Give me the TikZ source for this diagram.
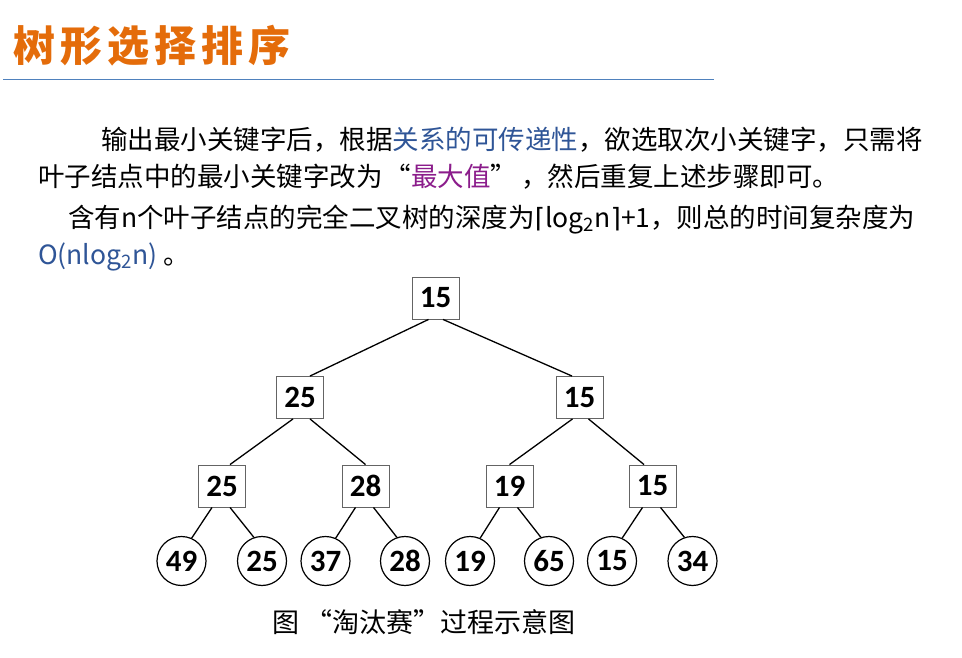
\documentclass[tikz,border=0pt]{standalone}
\usepackage{fontspec}
\setmainfont{Noto Sans CJK SC}
\newfontfamily\numfont{Carlito}
\newfontfamily\symfont{DejaVu Sans}
\newfontfamily\titlefont[LetterSpace=12]{Noto Sans CJK SC}
\usetikzlibrary{calc}
\definecolor{titleorange}{RGB}{228,108,10}
\definecolor{ruleblue}{RGB}{79,129,189}
\definecolor{keyblue}{RGB}{47,85,151}
\definecolor{maxpurple}{RGB}{139,28,139}
\definecolor{boxgray}{RGB}{100,100,100}

\begin{document}
\begin{tikzpicture}[x=1pt, y=-1pt,
		keybox/.style={draw=boxgray, line width=0.9pt, minimum width=47pt, minimum height=42pt, inner sep=0pt, font=\numfont\bfseries\fontsize{31}{31}\selectfont},
		leaf/.style={draw, circle, line width=1.2pt, minimum size=49pt, inner sep=0pt, font=\numfont\bfseries\fontsize{31}{31}\selectfont},
		link/.style={line width=1.3pt},
		bodytext/.style={anchor=base west, inner sep=0pt, font=\fontsize{26.5}{26.5}\selectfont}]
			%%%%% START %%%%%
			
			\fill[white] (0, 0) rectangle (962, 658);
			\useasboundingbox (0, 0) rectangle (962, 658);
			
			\node[anchor=west, inner sep=0pt, text=titleorange, font=\titlefont\bfseries\fontsize{42}{42}\selectfont] (title) at (13, 46) {树形选择排序};
			\draw[ruleblue, line width=1.3pt] (3, 79.3) -- (714, 79.3);
			
			\node[bodytext] (line1) at (101, 150) {输出最小关键字后，根据\textcolor{keyblue}{关系的可传递性}，欲选取次小关键字，只需将};
			\node[bodytext] (line2) at (38, 187) {叶子结点中的最小关键字改为\hspace{2pt}“\textcolor{maxpurple}{最大值}”\hspace{4pt}，然后重复上述步骤即可。};
			\node[bodytext] (line3) at (68, 227) {含有n个叶子结点的完全二叉树的深度为{\symfont ⌈}log\textsubscript{2}n{\symfont ⌉}+1，则总的时间复杂度为};
			\node[bodytext] (line4) at (38, 264) {\textcolor{keyblue}{O(nlog\textsubscript{2}n)} 。};
			
			\node[keybox] (root) at (435.5, 298) {15};
			
			\node[keybox] (b1) at (300, 397.5) {25};
			\node[keybox] (b2) at (579.5, 397.5) {15};
			
			\node[keybox] (c1) at (222, 486) {25};
			\node[keybox] (c2) at (365.5, 486) {28};
			\node[keybox] (c3) at (509.5, 486) {19};
			\node[keybox] (c4) at (652.5, 486) {15};
			
			\node[leaf] (d1) at (181.5, 561) {49};
			\node[leaf] (d2) at (262, 561) {25};
			\node[leaf] (d3) at (325.5, 561) {37};
			\node[leaf] (d4) at (405, 561) {28};
			\node[leaf] (d5) at (470, 561) {19};
			\node[leaf] (d6) at (549, 561) {65};
			\node[leaf] (d7) at (612, 561) {15};
			\node[leaf] (d8) at (692.5, 561) {34};
			
			\draw[link] ([xshift=-7pt]root.south) -- ([xshift=10pt]b1.north);
			\draw[link] ([xshift=7.5pt]root.south) -- ([xshift=-7.5pt]b2.north);
			
			\draw[link] ([xshift=-7pt]b1.south) -- ([xshift=8pt]c1.north);
			\draw[link] ([xshift=10pt]b1.south) -- (c2.north);
			\draw[link] ([xshift=-7pt]b2.south) -- (c3.north);
			\draw[link] ([xshift=9pt]b2.south) -- ([xshift=-8.5pt]c4.north);
			
			\draw[link] ([xshift=-10pt]c1.south) -- (d1.66);
			\draw[link] ([xshift=8pt]c1.south) -- (d2.109);
			\draw[link] ([xshift=-10pt]c2.south) -- (d3.66);
			\draw[link] ([xshift=8pt]c2.south) -- (d4.109);
			\draw[link] ([xshift=-10pt]c3.south) -- (d5.66);
			\draw[link] ([xshift=8pt]c3.south) -- (d6.109);
			\draw[link] ([xshift=-10pt]c4.south) -- (d7.66);
			\draw[link] ([xshift=8pt]c4.south) -- (d8.109);
			
			\node[inner sep=0pt, font=\fontsize{27}{27}\selectfont] (caption) at (424, 622) {图 “淘汰赛”过程示意图};
			
			%%%%% END %%%%%
		\end{tikzpicture}
\end{document}
